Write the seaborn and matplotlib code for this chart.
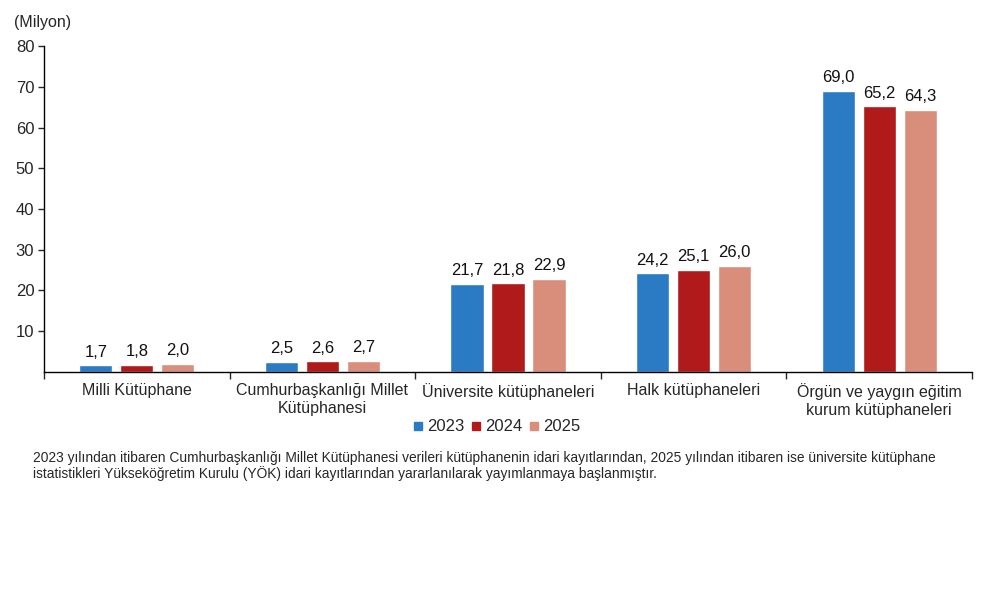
import matplotlib
matplotlib.use("Agg")
import matplotlib.pyplot as plt
import pandas as pd
import seaborn as sns
from matplotlib.lines import Line2D
from matplotlib.ticker import FixedLocator

# Chart data (millions)
categories = ["Milli Kütüphane", "Cumhurbaşkanlığı Millet\nKütüphanesi",
              "Üniversite kütüphaneleri", "Halk kütüphaneleri",
              "Örgün ve yaygın eğitim\nkurum kütüphaneleri"]
years = ["2023", "2024", "2025"]
values_2023 = [1.7, 2.5, 21.7, 24.2, 69.0]
values_2024 = [1.8, 2.6, 21.8, 25.1, 65.2]
values_2025 = [2.0, 2.7, 22.9, 26.0, 64.3]
y_ticks = [10, 20, 30, 40, 50, 60, 70, 80]
colors = ["#2B7BC4", "#B01A1A", "#D98D7B"]
footnote = ("2023 yılından itibaren Cumhurbaşkanlığı Millet Kütüphanesi verileri kütüphanenin idari kayıtlarından, "
            "2025 yılından itibaren ise üniversite kütüphane\n"
            "istatistikleri Yükseköğretim Kurulu (YÖK) idari kayıtlarından yararlanılarak yayımlanmaya başlanmıştır.")

df = pd.DataFrame({
    "kategori": categories * 3,
    "yil": [y for y in years for _ in categories],
    "deger": values_2023 + values_2024 + values_2025,
})

sns.set_style("white")
plt.rcParams["font.family"] = ["Liberation Sans", "DejaVu Sans"]

fig = plt.figure(figsize=(10, 5.93), dpi=100)
ax = fig.add_axes([0.044, 0.3727, 0.928, 0.5497])

sns.barplot(data=df, x="kategori", y="deger", hue="yil", hue_order=years,
            palette=colors, width=0.663, gap=0.19, saturation=1,
            legend=False, ax=ax)

# value labels with comma decimals
for cont in ax.containers:
    ax.bar_label(cont, labels=[f"{v:.1f}".replace(".", ",") for v in cont.datavalues],
                 padding=4, fontsize=12, color="#111111")

ax.set_ylim(0, 80)
ax.set_xlim(-0.5, len(categories) - 0.5)
ax.set_yticks(y_ticks)
ax.tick_params(axis="y", direction="out", length=4, width=1, labelsize=12, pad=3, left=True)
ax.tick_params(axis="x", which="major", length=0, labelsize=11.5, pad=8)
for lbl in ax.get_xticklabels():
    lbl.set_linespacing(1.25)
ax.xaxis.set_minor_locator(FixedLocator([i - 0.5 for i in range(len(categories) + 1)]))
ax.tick_params(axis="x", which="minor", direction="out", length=5, width=1, bottom=True)
ax.set_xlabel("")
ax.set_ylabel("")
sns.despine(ax=ax)
for s in ["left", "bottom"]:
    ax.spines[s].set_color("black")
    ax.spines[s].set_linewidth(1)

fig.text(0.014, 0.962, "(Milyon)", fontsize=11.5, va="center", ha="left")

handles = [Line2D([], [], marker="s", linestyle="none", markersize=5.5,
                  markerfacecolor=c, markeredgecolor=c) for c in colors]
fig.legend(handles, years, loc="center", bbox_to_anchor=(0.497, 0.28), ncol=3,
           frameon=False, fontsize=12, handletextpad=0.25, columnspacing=0.4,
           handlelength=0.6)

fig.text(0.033, 0.214, footnote, fontsize=9.9, va="center", ha="left", linespacing=1.15)

fig.savefig("out.png", dpi=100)
